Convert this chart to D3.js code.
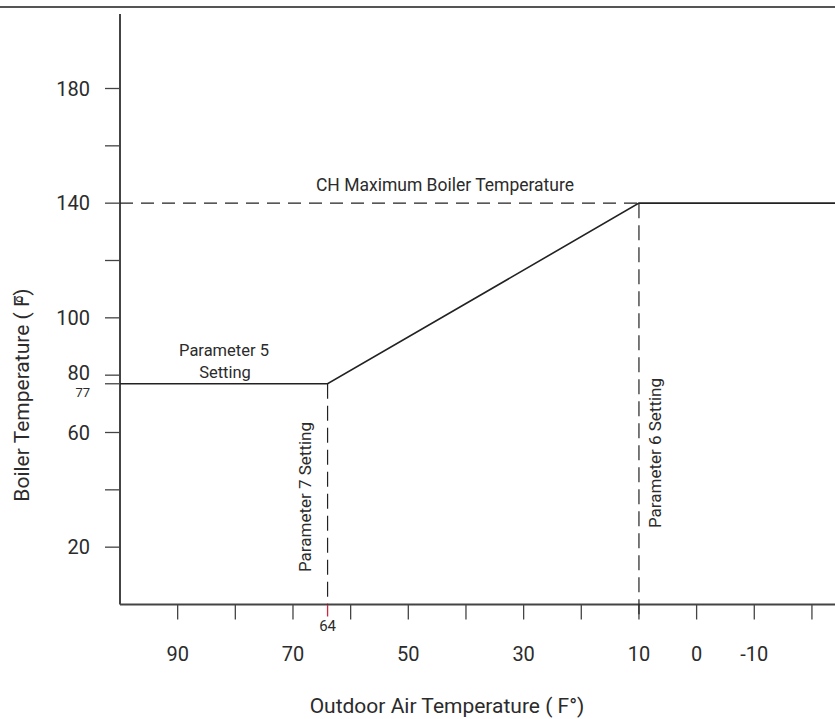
<!DOCTYPE html>
<html>
<head>
<meta charset="utf-8">
<script src="https://cdn.jsdelivr.net/npm/d3@7"></script>
<style>
  body { margin: 0; background: #fff; }
  text { font-family: "Roboto", "Liberation Sans Narrow", sans-serif; fill: #2b2b2b; }
</style>
</head>
<body>
<div id="chart"></div>
<script>
// data ------------------------------------------------------------
const outdoorTicks   = [90, 80, 70, 60, 50, 40, 30, 20, 10, 0, -10, -20]
const outdoorLabels  = [90, 70, 50, 30, 10, 0, -10]
const boilerTicks    = [20, 40, 60, 80, 100, 120, 140, 160, 180]
const boilerLabels   = [20, 60, 80, 100, 140, 180]
const resetCurve     = [ {outdoor: 100, boiler: 77}, {outdoor: 64, boiler: 77},
                         {outdoor: 10, boiler: 140}, {outdoor: -24, boiler: 140} ]
const param7Outdoor  = 64
const param6Outdoor  = 10
const minBoiler      = 77
const maxBoiler      = 140

// layout ------------------------------------------------------------
const width = 835, height = 719
const axisColor = "#444"

const svg = d3.select("#chart").append("svg")
  .attr("width", width)
  .attr("height", height)

const x = d3.scaleLinear().domain([100, -24]).range([120, 835])
const y = d3.scaleLinear().domain([0, 180]).range([604.5, 88.5])

// top border
svg.append("line")
  .attr("x1", 0).attr("x2", width).attr("y1", 7).attr("y2", 7)
  .attr("stroke", "#555").attr("stroke-width", 2)

// y axis line + ticks
svg.append("line")
  .attr("x1", x(100)).attr("x2", x(100)).attr("y1", 14).attr("y2", y(0))
  .attr("stroke", axisColor).attr("stroke-width", 2)

svg.append("g").selectAll("line")
  .data(boilerTicks.concat([minBoiler]))
  .join("line")
  .attr("x1", 105).attr("x2", x(100))
  .attr("y1", d => y(d)).attr("y2", d => y(d))
  .attr("stroke", axisColor).attr("stroke-width", 1.3)

svg.append("g").selectAll("text")
  .data(boilerLabels)
  .join("text")
  .attr("x", 90)
  .attr("y", d => y(d))
  .attr("dy", d => d === 80 ? "0.25em" : "0.35em")
  .attr("text-anchor", "end")
  .attr("font-size", 20)
  .text(d => d)

// 77 sits just under its tick so it clears the 80 label
svg.append("text")
  .attr("x", 90).attr("y", y(minBoiler) + 13)
  .attr("text-anchor", "end")
  .attr("font-size", 13)
  .text(minBoiler)

// x axis line + ticks
svg.append("line")
  .attr("x1", x(100)).attr("x2", width).attr("y1", y(0)).attr("y2", y(0))
  .attr("stroke", axisColor).attr("stroke-width", 2)

svg.append("g").selectAll("line")
  .data(outdoorTicks)
  .join("line")
  .attr("x1", d => x(d)).attr("x2", d => x(d))
  .attr("y1", y(0)).attr("y2", y(0) + 15)
  .attr("stroke", axisColor).attr("stroke-width", 1.3)

svg.append("line")
  .attr("x1", x(param7Outdoor)).attr("x2", x(param7Outdoor))
  .attr("y1", y(0)).attr("y2", y(0) + 12)
  .attr("stroke", "#d0263b").attr("stroke-width", 1.3)

svg.append("text")
  .attr("x", x(param7Outdoor)).attr("y", 631)
  .attr("text-anchor", "middle")
  .attr("font-size", 15)
  .text(param7Outdoor)

svg.append("g").selectAll("text")
  .data(outdoorLabels)
  .join("text")
  .attr("x", d => x(d))
  .attr("y", 661)
  .attr("text-anchor", "middle")
  .attr("font-size", 20)
  .text(d => d)

// axis titles
svg.append("text")
  .attr("x", 447).attr("y", 713)
  .attr("text-anchor", "middle")
  .attr("font-size", 21)
  .text("Outdoor Air Temperature ( F°)")

const yTitle = svg.append("text")
  .attr("transform", "translate(29,395) rotate(-90)")
  .attr("text-anchor", "middle")
  .attr("font-size", 21)
yTitle.append("tspan").text("Boiler Temperature ( F")
yTitle.append("tspan").attr("dx", -7).attr("dy", -6).attr("font-size", 12).text("o")
yTitle.append("tspan").attr("dy", 6).text(")")

// dashed guides
svg.append("line")
  .attr("x1", x(100)).attr("x2", x(param6Outdoor))
  .attr("y1", y(maxBoiler)).attr("y2", y(maxBoiler))
  .attr("stroke", "#222").attr("stroke-width", 1.2)
  .attr("stroke-dasharray", "13,8")

svg.append("line")
  .attr("x1", x(param7Outdoor)).attr("x2", x(param7Outdoor))
  .attr("y1", y(minBoiler)).attr("y2", y(0))
  .attr("stroke", "#222").attr("stroke-width", 1.2)
  .attr("stroke-dasharray", "15,7")

svg.append("line")
  .attr("x1", x(param6Outdoor)).attr("x2", x(param6Outdoor))
  .attr("y1", y(maxBoiler)).attr("y2", y(0) + 14)
  .attr("stroke", "#222").attr("stroke-width", 1.2)
  .attr("stroke-dasharray", "15,7")

// reset curve
const line = d3.line().x(d => x(d.outdoor)).y(d => y(d.boiler))
svg.append("path")
  .datum(resetCurve)
  .attr("d", line)
  .attr("fill", "none")
  .attr("stroke", "#222")
  .attr("stroke-width", 1.6)

// annotations
svg.append("text")
  .attr("x", 445).attr("y", 191)
  .attr("text-anchor", "middle")
  .attr("font-size", 17.5)
  .text("CH Maximum Boiler Temperature")

svg.append("text")
  .attr("x", 224).attr("y", 356)
  .attr("text-anchor", "middle")
  .attr("font-size", 16.5)
  .text("Parameter 5")
svg.append("text")
  .attr("x", 225).attr("y", 378)
  .attr("text-anchor", "middle")
  .attr("font-size", 16.5)
  .text("Setting")

svg.append("text")
  .attr("transform", `translate(311,497) rotate(-90)`)
  .attr("text-anchor", "middle")
  .attr("font-size", 17)
  .text("Parameter 7 Setting")

svg.append("text")
  .attr("transform", `translate(661,453) rotate(-90)`)
  .attr("text-anchor", "middle")
  .attr("font-size", 17)
  .text("Parameter 6 Setting")
</script>
</body>
</html>
